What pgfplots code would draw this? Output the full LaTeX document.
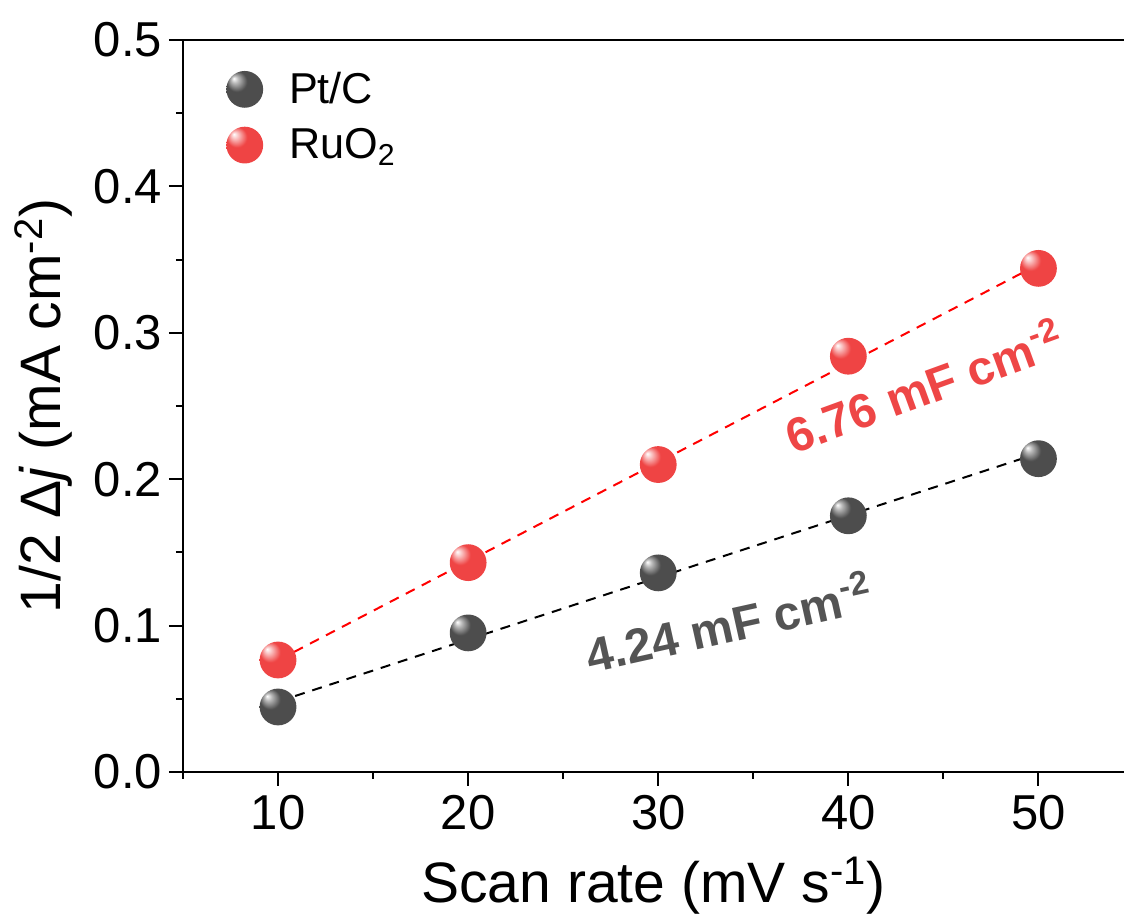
\documentclass[border=0pt]{standalone}
\usepackage{pgfplots}
\pgfplotsset{compat=1.18}
\usepackage{fontspec}
\setmainfont{Liberation Sans}
\definecolor{ballred}{HTML}{EF4444}
\definecolor{ballgray}{HTML}{4D4D4D}
\definecolor{txtred}{HTML}{EE4646}
\definecolor{txtgray}{HTML}{545454}
\pgfdeclareradialshading{redballshade}{\pgfpoint{-15bp}{15bp}}{color(0bp)=(white); color(5bp)=(white!65!ballred); color(14bp)=(ballred); color(44bp)=(ballred); color(50bp)=(ballred!88!black)}
\pgfdeclareradialshading{grayballshade}{\pgfpoint{-15bp}{15bp}}{color(0bp)=(white); color(5bp)=(white!60!ballgray); color(14bp)=(ballgray); color(44bp)=(ballgray); color(50bp)=(ballgray!85!black)}
\pgfdeclareplotmark{redball}{\pgfpathcircle{\pgfpointorigin}{\pgfplotmarksize}\pgfshadepath{redballshade}{0}\pgfusepath{}}
\pgfdeclareplotmark{grayball}{\pgfpathcircle{\pgfpointorigin}{\pgfplotmarksize}\pgfshadepath{grayballshade}{0}\pgfusepath{}}
\begin{document}
\begin{tikzpicture}
\begin{axis}[name=ax,
  scale only axis, width=470.5pt, height=366pt,
  xmin=5, xmax=54.5, ymin=0, ymax=0.5,
  axis y line*=left,
  xtick={10,20,30,40,50}, minor xtick={5,15,25,35,45},
  ytick={0,0.1,0.2,0.3,0.4,0.5}, minor ytick={0.05,0.15,0.25,0.35,0.45},
  xtick pos=left, ytick pos=left,
  tick align=outside,
  major tick length=7pt, minor tick length=3.5pt,
  every tick/.style={black, line width=1pt},
  axis line style={line width=1pt},
  tick label style={font=\fontsize{24.5}{24.5}\selectfont},
  /pgf/number format/assume math mode=true,
  yticklabel style={/pgf/number format/.cd, fixed, fixed zerofill, precision=1},
  xticklabel style={yshift=-1pt},
  xlabel={Scan rate (mV s\textsuperscript{-1})},
  ylabel={1/2 Δ\textit{j} (mA cm\textsuperscript{-2})},
  label style={font=\fontsize{28.5}{28.5}\selectfont},
  xlabel style={yshift=-6.7pt},
  ylabel style={yshift=4pt},
  legend style={draw=none, fill=none, at={(axis cs:7.26,0.481)}, anchor=north west,
    font=\fontsize{21.6}{21.6}\selectfont, row sep=7pt, column sep=11pt, inner sep=0pt},
  legend cell align=left,
]
\addplot[only marks, mark=grayball, mark size=9.2pt] coordinates {
(10,0.0444) (20,0.095) (30,0.136) (40,0.175) (50,0.214)};
\addlegendentry{Pt/C}
\addplot[only marks, mark=redball, mark size=9.2pt] coordinates {
(10,0.0765) (20,0.143) (30,0.210) (40,0.284) (50,0.344)};
\addlegendentry{RuO\textsubscript{2}}
\addplot[black, line width=1pt, dash pattern=on 5pt off 4pt, forget plot] coordinates {(10,0.0481) (50,0.2177)};
\addplot[red, line width=1pt, dash pattern=on 5pt off 4pt, forget plot] coordinates {(10,0.0763) (50,0.3467)};
\node[rotate=20, text=txtred, font=\fontsize{24}{24}\selectfont\bfseries] at (axis cs:43.95,0.2643) {6.76 mF cm\textsuperscript{-2}};
\node[rotate=12.5, text=txtgray, font=\fontsize{24}{24}\selectfont\bfseries] at (axis cs:33.7,0.1025) {4.24 mF cm\textsuperscript{-2}};
\end{axis}
\pgfresetboundingbox
\path[use as bounding box] ([xshift=-91.5pt,yshift=-73pt]ax.south west) rectangle ([yshift=20pt]ax.north east);
\end{tikzpicture}
\end{document}
